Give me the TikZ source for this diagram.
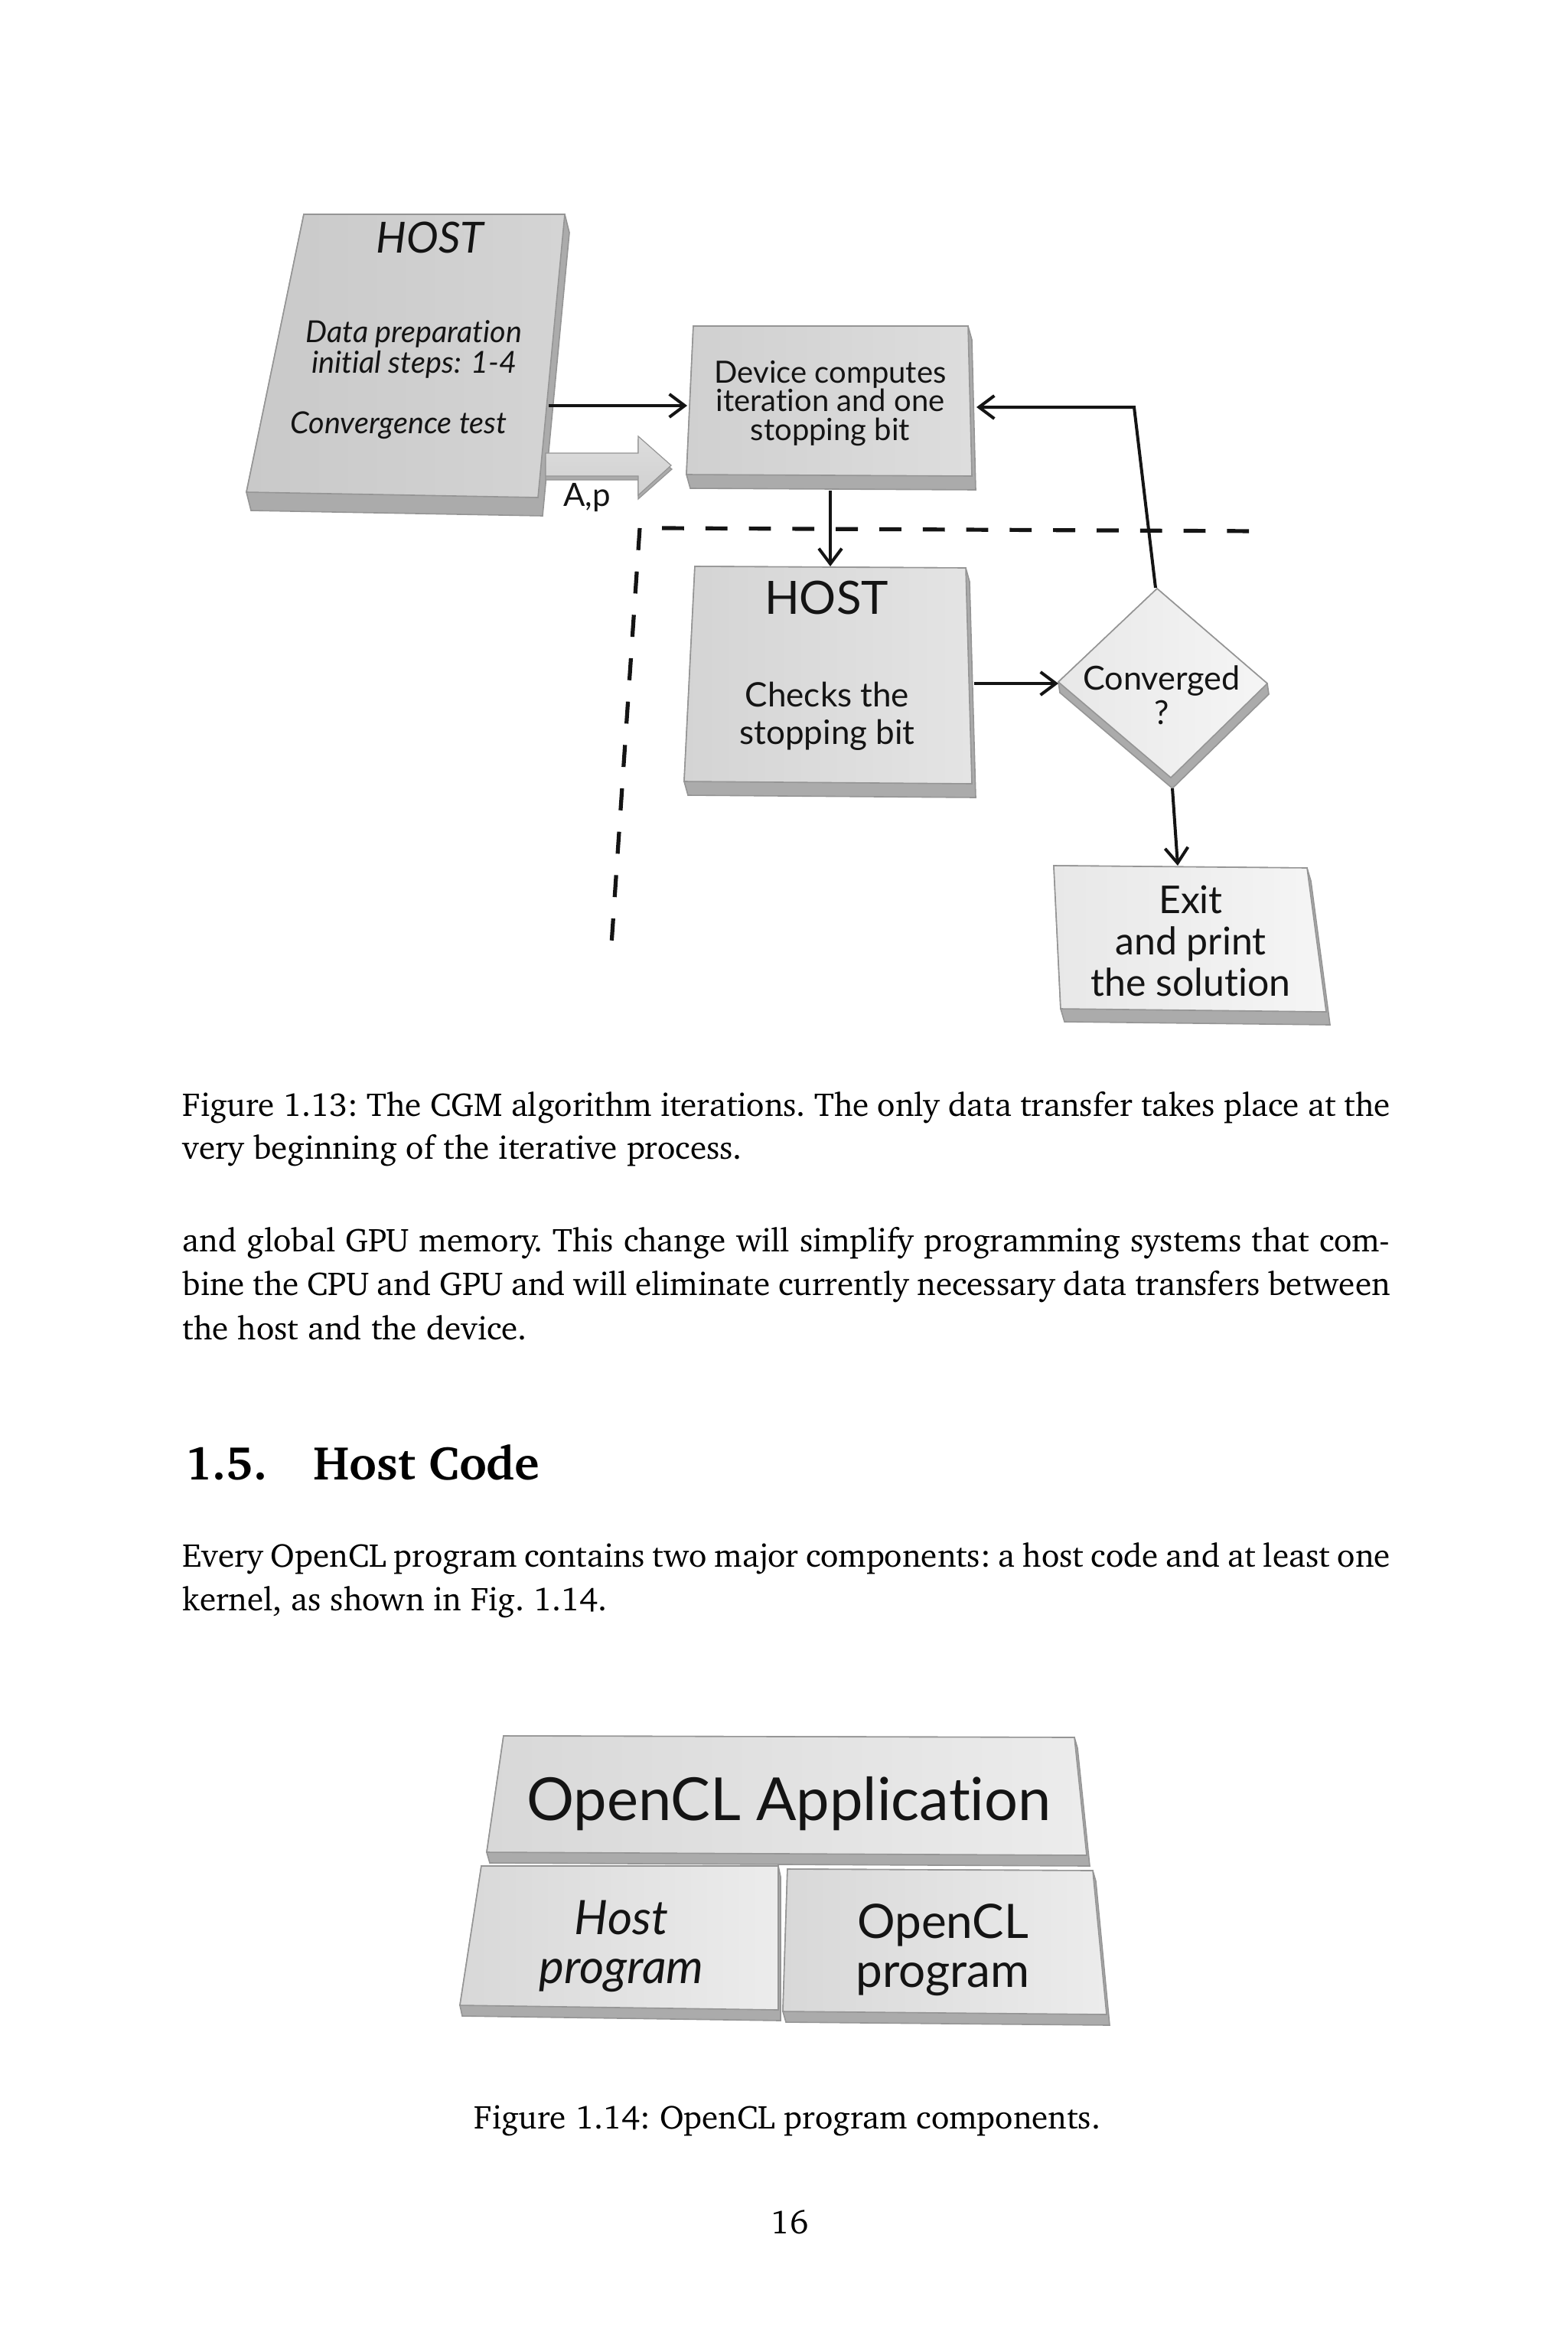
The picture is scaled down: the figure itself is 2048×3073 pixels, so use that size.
\documentclass[tikz,border=0pt]{standalone}
\usepackage[T1]{fontenc}
\usepackage{fontspec}
\newfontfamily\gill[Ligatures=NoCommon]{Lato}
\newcommand\charterfont{\fontencoding{T1}\fontfamily{bch}\selectfont\frenchspacing}
\usetikzlibrary{arrows.meta}
\definecolor{edgegray}{HTML}{ABABAB}
\definecolor{linegray}{HTML}{959595}
\definecolor{inkc}{HTML}{141414}
\definecolor{fA}{HTML}{C9C9C9}\definecolor{fB}{HTML}{D4D4D4}
\definecolor{fC}{HTML}{D0D0D0}\definecolor{fD}{HTML}{DDDDDD}
\definecolor{fE}{HTML}{D4D4D4}\definecolor{fF}{HTML}{E4E4E4}
\definecolor{fG}{HTML}{E8E8E8}\definecolor{fH}{HTML}{F5F5F5}
\definecolor{fI}{HTML}{D8D8D8}\definecolor{fJ}{HTML}{ECECEC}
\newcommand\slab[7]{%
  \filldraw[fill=edgegray, draw=linegray, line width=0.4pt] (#1) -- (#2) -- ([shift={(#5)}]#2) -- ([shift={(#5)}]#3) -- ([shift={(#5)}]#4) -- (#4) -- cycle;
  \shadedraw[left color=#6, right color=#7, draw=linegray, line width=0.4pt] (#1) -- (#2) -- (#3) -- (#4) -- cycle;
}
\newcommand\jline[1]{\makebox[394.5pt][s]{#1}}
\begin{document}
\begin{tikzpicture}[x=0.25pt,y=-0.25pt,
  lab/.style={font=\gill, align=center, inner sep=0pt, text=inkc},
  conn/.style={line width=1pt, draw=inkc, -{Straight Barb[length=5pt,width=7.5pt,line width=1pt]}},
  dashln/.style={line width=1.3pt, draw=inkc, dash pattern=on 7.2pt off 7pt},
  body/.style={anchor=base west, inner sep=0pt, font=\charterfont\fontsize{10.8}{14}\selectfont},
  head/.style={anchor=base west, inner sep=0pt, font=\charterfont\fontsize{15.5}{18}\selectfont\bfseries}]
\useasboundingbox (0,0) rectangle (2048,3073);
\fill[white] (0,0) rectangle (2048,3073);

% ---------- Figure 1.13 ----------
\slab{397,280}{738,280}{703,650}{322,643}{6,24}{fA}{fB}
\slab{906,426}{1265,426}{1270,622}{897,620}{5,18}{fC}{fD}
\slab{908,740}{1262,742}{1270,1024}{894,1021}{5,18}{fE}{fF}
\slab{1512,769}{1656,893}{1530,1016}{1383,891}{2,14}{fG}{fH}
\slab{1377,1131}{1708,1134}{1733,1322}{1386,1318}{5,17}{fG}{fH}

% block arrow A,p
\filldraw[fill=edgegray, draw=linegray, line width=0.3pt] (713,597) -- (834,597) -- (834,575) -- (878,613) -- (834,652) -- (834,627) -- (713,627) -- cycle;
\shadedraw[top color=fD, bottom color=fC, draw=linegray, line width=0.3pt] (713,592) -- (834,592) -- (834,570) -- (877,608) -- (834,647) -- (834,622) -- (713,622) -- cycle;

% labels
\node[lab, font=\gill\itshape\fontsize{14}{15}\selectfont] (host1) at (562,310) {HOST};
\node[lab, font=\gill\itshape\fontsize{9.9}{8.8}\selectfont] (prep) at (541,456) {Data preparation\\initial steps: 1-4};
\node[lab, font=\gill\itshape\fontsize{9.9}{8.8}\selectfont] (convt) at (521,556) {Convergence test};
\node[lab, font=\gill\fontsize{10.5}{12}\selectfont] (ap) at (767,650) {A,p};
\node[lab, font=\gill\fontsize{10}{9.3}\selectfont] (dev) at (1085,527) {Device computes\\iteration and one\\stopping bit};
\node[lab, font=\gill\fontsize{15}{16}\selectfont] (host2) at (1080,781) {HOST};
\node[lab, font=\gill\fontsize{11}{12.2}\selectfont] (checks) at (1081,936) {Checks the\\stopping bit};
\node[lab, font=\gill\fontsize{10.8}{11.2}\selectfont] (conv) at (1518,908) {Converged\\?};
\node[lab, font=\gill\fontsize{12.5}{13.5}\selectfont] (exit) at (1556,1229) {Exit\\and print\\the solution};

% connector end points
\coordinate (h1out) at (717,530);
\coordinate (devinL) at (898,530);
\coordinate (devinR) at (1276,532);
\coordinate (devbot) at (1085,641);
\coordinate (h2top) at (1085,740);
\coordinate (h2right) at (1273,893);
\coordinate (dleft) at (1383,893);
\coordinate (dtop) at (1510,768);
\coordinate (bend) at (1482,532);
\coordinate (dbot) at (1532,1030);
\coordinate (extop) at (1539,1131);

\draw[conn] (h1out) -- (devinL);
\draw[conn] (devbot) -- (h2top);
\draw[conn] (dtop) -- (bend) -- (devinR);
\draw[conn] (h2right) -- (dleft);
\draw[conn] (dbot) -- (extop);

% dashed separators
\coordinate (dh1) at (865,690);
\coordinate (dh2) at (1645,694);
\coordinate (dv1) at (836,690);
\coordinate (dv2) at (798,1249);
\draw[dashln] (dh1) -- (dh2);
\draw[dashln] (dv1) -- (dv2);

% ---------- text ----------
\node[body] (cap1a) at (238,1458) {\jline{Figure 1.13: The CGM algorithm iterations. The only data transfer takes place at the}};
\node[body] (cap1b) at (238,1514) {very beginning of the iterative process.};
\node[body] (p1a) at (238,1635) {\jline{and global GPU memory. This change will simplify programming systems that com-}};
\node[body] (p1b) at (238,1692) {\jline{bine the CPU and GPU and will eliminate currently necessary data transfers between}};
\node[body] (p1c) at (238,1750) {the host and the device.};
\node[head] (sec) at (241,1933) {\makebox[42pt][l]{1.5.}Host Code};
\node[body] (p2a) at (238,2047) {\jline{Every OpenCL program contains two major components: a host code and at least one}};
\node[body] (p2b) at (238,2104) {kernel, as shown in Fig. 1.14.};

% ---------- Figure 1.14 ----------
\slab{658,2268}{1404,2270}{1420,2424}{636,2420}{4,14}{fI}{fJ}
\slab{629,2438}{1017,2438}{1017,2626}{601,2620}{3,14}{fI}{fJ}
\slab{1029,2442}{1428,2444}{1446,2632}{1023,2628}{4,14}{fI}{fJ}
\node[lab, font=\gill\fontsize{19.4}{20}\selectfont] (app) at (1031,2357) {OpenCL Application};
\node[lab, font=\gill\itshape\fontsize{15.5}{16}\selectfont] (hostprog) at (812,2543) {Host\\program};
\node[lab, font=\gill\fontsize{15.5}{16}\selectfont] (clprog) at (1232,2548) {OpenCL\\program};

\node[body, anchor=base] (cap2) at (1029,2781) {Figure 1.14: OpenCL program components.};
\node[body, anchor=base] (pg) at (1032,2918) {16};
\end{tikzpicture}
\end{document}
